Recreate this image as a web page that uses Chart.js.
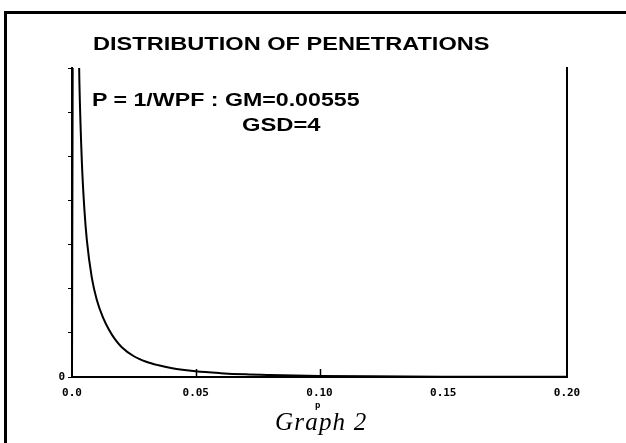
<!DOCTYPE html>
<html>
<head>
<meta charset="utf-8">
<script src="https://cdn.jsdelivr.net/npm/chart.js@4"></script>
<style>
  html, body { margin: 0; padding: 0; background: #fff; }
  #wrap { position: relative; width: 626px; height: 443px; overflow: hidden; }
  #frame { position: absolute; left: 4px; top: 11px; width: 640px; height: 460px;
           border-top: 3px solid #000; border-left: 3px solid #000; }
  canvas { position: absolute; left: 0; top: 0; }
  .txt { position: absolute; white-space: nowrap; color: #000; line-height: 1; transform-origin: 0 0; }
  #title { left: 93px; top: 34px; font: bold 18px "Liberation Sans", Arial, sans-serif; transform: scaleX(1.31); }
  #note1 { left: 92px; top: 89px; font: bold 19px "Liberation Sans", Arial, sans-serif; transform: scaleX(1.22); }
  #note2 { left: 242px; top: 114px; font: bold 19px "Liberation Sans", Arial, sans-serif; transform: scaleX(1.25); }
  #xname { left: 315px; top: 400px; font: bold 9px "DejaVu Sans Mono", monospace; }
  #caption { left: 275px; top: 408px; font: italic 25px "Liberation Serif", "Times New Roman", serif; letter-spacing: 1.2px; }
</style>
</head>
<body>
<div id="wrap">
  <div id="frame"></div>
  <canvas id="chart" width="626" height="443"></canvas>
  <div class="txt" id="title">DISTRIBUTION OF PENETRATIONS</div>
  <div class="txt" id="note1">P = 1/WPF : GM=0.00555</div>
  <div class="txt" id="note2">GSD=4</div>
  <div class="txt" id="xname">p</div>
  <div class="txt" id="caption">Graph 2</div>
</div>
<script>
        // Penetration values p and the frequency
        const pValues = [0, 0.0003, 0.0006, 0.001, 0.0015, 0.002, 0.003, 0.004, 0.005,
                         0.006, 0.008, 0.010, 0.0125, 0.015, 0.0175, 0.02, 0.025, 0.03, 0.035,
                         0.04, 0.05, 0.06, 0.07, 0.08, 0.10, 0.12, 0.15, 0.20];
        const freqValues = [0, 150, 210, 230, 225, 200, 133, 97, 76,
                            62, 45, 35, 27, 21.3, 16.9, 13.6, 9.4, 6.9, 5.3,
                            4.1, 2.6, 1.75, 1.2, 0.9, 0.5, 0.3, 0.16, 0.07];

        // Axis ticks
        const xTickValues = [0, 0.05, 0.10, 0.15, 0.20];
        const xTickLabels = ['0.0', '0.05', '0.10', '0.15', '0.20'];
        const yTickLabels = ['0'];

        const points = pValues.map((p, i) => ({ x: p, y: freqValues[i] }));

        // small tick marks pointing up into the plot from the p axis
        const innerTicks = {
            id: 'innerTicks',
            afterDatasetsDraw(chart) {
                const ctx = chart.ctx;
                const xs = chart.scales.x;
                const bottom = chart.chartArea.bottom;
                ctx.save();
                ctx.strokeStyle = '#000';
                ctx.lineWidth = 1.5;
                xTickValues.slice(1, 3).forEach(v => {
                    const px = Math.round(xs.getPixelForValue(v)) + 0.5;
                    ctx.beginPath();
                    ctx.moveTo(px, bottom);
                    ctx.lineTo(px, bottom - 8);
                    ctx.stroke();
                });
                ctx.restore();
            }
        };

        const tickFont = { family: 'DejaVu Sans Mono', size: 11, weight: 'bold' };

        const ctx = document.getElementById('chart').getContext('2d');
        const chart = new Chart(ctx, {
            type: 'line',
            data: {
                datasets: [{
                    label: 'frequency',
                    data: points,
                    borderColor: '#000',
                    borderWidth: 2,
                    pointRadius: 0,
                    cubicInterpolationMode: 'monotone',
                    fill: false
                }]
            },
            plugins: [innerTicks],
            options: {
                responsive: false,
                animation: false,
                layout: { padding: { left: 32, top: 68, right: 58, bottom: 41 } },
                plugins: {
                    legend: { display: false },
                    tooltip: { enabled: false }
                },
                scales: {
                    x: {
                        type: 'linear',
                        min: 0,
                        max: 0.20,
                        afterBuildTicks: s => { s.ticks = xTickValues.map(v => ({ value: v })); },
                        afterFit: s => { s.height = 25; },
                        ticks: {
                            color: '#000',
                            font: tickFont,
                            padding: 10,
                            maxRotation: 0,
                            callback: (v, i) => xTickLabels[i]
                        },
                        grid: { drawOnChartArea: false, drawTicks: false },
                        border: { display: true, color: '#000', width: 2 }
                    },
                    y: {
                        min: 0,
                        max: 140,
                        afterFit: s => { s.width = 40; },
                        ticks: {
                            stepSize: 20,
                            color: '#000',
                            font: tickFont,
                            padding: 3,
                            callback: (v, i) => yTickLabels[i] || ''
                        },
                        grid: { drawOnChartArea: false, tickLength: 4, color: '#000' },
                        border: { display: true, color: '#000', width: 2 }
                    },
                    y2: {
                        position: 'right',
                        min: 0,
                        max: 140,
                        afterFit: s => { s.width = 1; },
                        ticks: { display: false },
                        grid: { drawOnChartArea: false, drawTicks: false },
                        border: { display: true, color: '#000', width: 2 }
                    }
                }
            }
        });
</script>
</body>
</html>
